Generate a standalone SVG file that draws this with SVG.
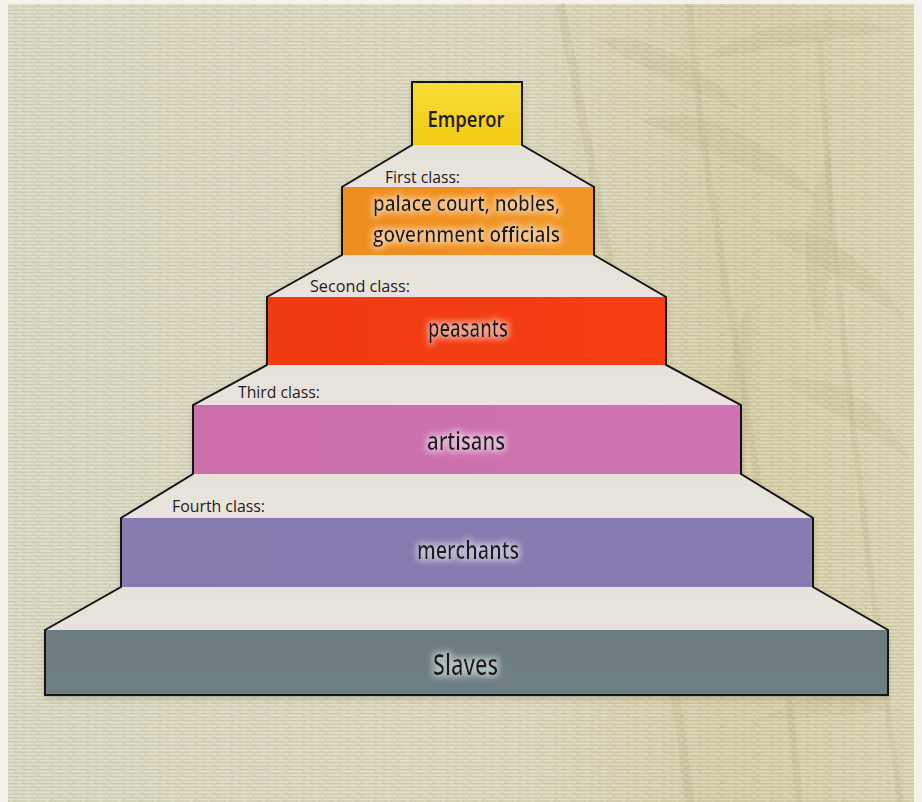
<svg xmlns="http://www.w3.org/2000/svg" width="922" height="802" viewBox="0 0 922 802">
  <defs>
    <linearGradient id="bgGrad" x1="0" y1="0" x2="1" y2="0">
      <stop offset="0" stop-color="#d8d5bf"/>
      <stop offset="0.55" stop-color="#d9d5bb"/>
      <stop offset="0.8" stop-color="#d4cba4"/>
      <stop offset="1" stop-color="#d8d1ae"/>
    </linearGradient>
    <pattern id="weave" x="0" y="0" width="36" height="7" patternUnits="userSpaceOnUse">
      <path d="M0 1.5 H14 M17 1.5 H33 M4 5 H22 M25 5 H36" stroke="#ffffff" stroke-opacity="0.22" stroke-width="1.3"/>
      <path d="M0 3.2 H10 M13 3.2 H28 M30 3.2 H36 M0 6.6 H18 M21 6.6 H34" stroke="#8f8a6c" stroke-opacity="0.18" stroke-width="1"/>
    </pattern>
    <linearGradient id="stepGrad" x1="0" y1="0" x2="0" y2="1">
      <stop offset="0" stop-color="#e5e3d9"/>
      <stop offset="0.8" stop-color="#e8e4dc"/>
      <stop offset="1" stop-color="#ecdfe4"/>
    </linearGradient>
    <linearGradient id="yellowGrad" x1="0" y1="0" x2="0" y2="1">
      <stop offset="0" stop-color="#f8dc3a"/>
      <stop offset="1" stop-color="#f2cb12"/>
    </linearGradient>
    <linearGradient id="orangeGrad" x1="0" y1="0" x2="1" y2="0">
      <stop offset="0" stop-color="#ee8c1c"/>
      <stop offset="1" stop-color="#f29626"/>
    </linearGradient>
    <linearGradient id="redGrad" x1="0" y1="0" x2="1" y2="0">
      <stop offset="0" stop-color="#f03a10"/>
      <stop offset="1" stop-color="#f53e12"/>
    </linearGradient>
    <linearGradient id="pinkGrad" x1="0" y1="0" x2="1" y2="0">
      <stop offset="0" stop-color="#cb6ea9"/>
      <stop offset="1" stop-color="#cd72b2"/>
    </linearGradient>
    <linearGradient id="purpleGrad" x1="0" y1="0" x2="1" y2="0">
      <stop offset="0" stop-color="#8679ae"/>
      <stop offset="1" stop-color="#887bb2"/>
    </linearGradient>
    <linearGradient id="slateGrad" x1="0" y1="0" x2="0" y2="1">
      <stop offset="0" stop-color="#6a7c7e"/>
      <stop offset="1" stop-color="#6c7f84"/>
    </linearGradient>
    <filter id="glow" x="-20%" y="-40%" width="140%" height="180%">
      <feMorphology in="SourceAlpha" operator="dilate" radius="1.5" result="d"/>
      <feGaussianBlur in="d" stdDeviation="3" result="b"/>
      <feFlood flood-color="#ffffff" flood-opacity="0.5"/>
      <feComposite in2="b" operator="in" result="g"/>
      <feMerge>
        <feMergeNode in="g"/>
        <feMergeNode in="SourceGraphic"/>
      </feMerge>
    </filter>
    <filter id="shadow" x="-5%" y="-5%" width="110%" height="120%">
      <feGaussianBlur in="SourceAlpha" stdDeviation="3"/>
      <feOffset dx="0" dy="3" result="o"/>
      <feFlood flood-color="#5a5640" flood-opacity="0.35"/>
      <feComposite in2="o" operator="in"/>
    </filter>
  </defs>
  <style>
    .step { fill: url(#stepGrad); }
    .outline { fill: none; stroke: #151515; stroke-width: 2; stroke-linejoin: miter; }
    .lbl { font-family: "Open Sans", "Liberation Sans", sans-serif; fill: #1f1a1b; font-weight: 600; }
    .cls { font-size: 16px; font-weight: 500; }
    .big { filter: url(#glow); }
    .bamboo { fill: #b9b088; opacity: 0.22; }
    .stalk { stroke: #b5ac84; stroke-opacity: 0.25; fill: none; }
  </style>

  <!-- background -->
  <g id="background">
    <rect x="0" y="0" width="922" height="802" fill="#f4f2ea"/>
    <rect x="8" y="4" width="906" height="798" fill="url(#bgGrad)"/>
    <g id="bamboo">
      <path class="stalk" stroke-width="9" d="M560 4 C600 200 640 420 690 802"/>
      <path class="stalk" stroke-width="7" d="M690 4 C700 200 760 420 800 802"/>
      <path class="stalk" stroke-width="6" d="M820 40 C830 250 860 500 900 802"/>
      <path class="bamboo" d="M600 40 C640 30 700 60 740 110 C690 90 640 70 600 40 Z"/>
      <path class="bamboo" d="M640 120 C700 100 770 140 820 200 C760 170 700 150 640 120 Z"/>
      <path class="bamboo" d="M700 60 C760 20 830 10 900 30 C830 40 770 50 700 60 Z"/>
      <path class="bamboo" d="M760 230 C820 220 870 260 905 320 C860 290 810 260 760 230 Z"/>
      <path class="bamboo" d="M780 380 C830 370 880 400 910 460 C870 430 820 410 780 380 Z"/>
      <path class="bamboo" d="M750 300 C720 360 720 430 740 500 C750 430 755 360 750 300 Z"/>
      <path class="bamboo" d="M830 150 C800 210 800 280 820 340 C830 280 835 210 830 150 Z"/>
      <path class="bamboo" d="M700 700 C740 650 780 640 830 650 C790 670 740 690 700 700 Z"/>
      <path class="bamboo" d="M760 720 C800 690 850 690 900 710 C850 715 800 720 760 720 Z"/>
    </g>
    <rect x="8" y="4" width="906" height="798" fill="url(#weave)"/>
  </g>

  <!-- shadow under pyramid -->
  <polygon filter="url(#shadow)" points="412,82 522,82 522,145 594,187 594,255 666,297 666,365 741,405 741,474 813,518 813,587 888,630 888,695 45,695 45,630 121,587 121,518 193,474 193,405 267,365 267,297 342,255 342,187 412,145"/>

  <g id="emperor">
    <rect x="412" y="82" width="110" height="63" fill="url(#yellowGrad)"/>
    <text class="lbl" x="466" y="127" font-size="21" text-anchor="middle" textLength="77" lengthAdjust="spacingAndGlyphs">Emperor</text>
  </g>

  <g id="first-class">
    <polygon class="step" points="412,145 522,145 594,187 342,187"/>
    <rect x="342" y="187" width="252" height="68" fill="url(#orangeGrad)"/>
    <text class="lbl cls" x="385" y="183" textLength="75" lengthAdjust="spacingAndGlyphs">First class:</text>
    <text class="lbl big" x="373" y="211" font-size="22" textLength="187" lengthAdjust="spacingAndGlyphs">palace court, nobles,</text>
    <text class="lbl big" x="373" y="242" font-size="22" textLength="187" lengthAdjust="spacingAndGlyphs">government officials</text>
  </g>

  <g id="second-class">
    <polygon class="step" points="342,255 594,255 666,297 267,297"/>
    <rect x="267" y="297" width="399" height="68" fill="url(#redGrad)"/>
    <text class="lbl cls" x="310" y="292" textLength="100" lengthAdjust="spacingAndGlyphs">Second class:</text>
    <text class="lbl big" x="428" y="337" font-size="26" textLength="80" lengthAdjust="spacingAndGlyphs">peasants</text>
  </g>

  <g id="third-class">
    <polygon class="step" points="267,365 666,365 741,405 193,405"/>
    <rect x="193" y="405" width="548" height="69" fill="url(#pinkGrad)"/>
    <text class="lbl cls" x="238" y="398" textLength="82" lengthAdjust="spacingAndGlyphs">Third class:</text>
    <text class="lbl big" x="427" y="450" font-size="26" textLength="78" lengthAdjust="spacingAndGlyphs">artisans</text>
  </g>

  <g id="fourth-class">
    <polygon class="step" points="193,474 741,474 813,518 121,518"/>
    <rect x="121" y="518" width="692" height="69" fill="url(#purpleGrad)"/>
    <text class="lbl cls" x="172" y="512" textLength="93" lengthAdjust="spacingAndGlyphs">Fourth class:</text>
    <text class="lbl big" x="417" y="559" font-size="26" textLength="102" lengthAdjust="spacingAndGlyphs">merchants</text>
  </g>

  <g id="slaves">
    <polygon class="step" points="121,587 813,587 888,630 45,630"/>
    <rect x="45" y="630" width="843" height="65" fill="url(#slateGrad)"/>
    <text class="lbl big" x="433" y="675" font-size="29" textLength="65" lengthAdjust="spacingAndGlyphs">Slaves</text>
  </g>

  <g id="connectors">
    <polygon class="outline" points="412,82 522,82 522,145 594,187 594,255 666,297 666,365 741,405 741,474 813,518 813,587 888,630 888,695 45,695 45,630 121,587 121,518 193,474 193,405 267,365 267,297 342,255 342,187 412,145"/>
  </g>
</svg>
